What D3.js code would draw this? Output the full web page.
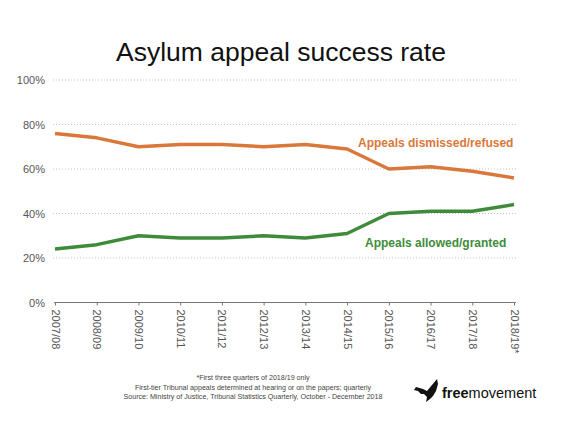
<!DOCTYPE html>
<html><head><meta charset="utf-8">
<script src="https://cdn.jsdelivr.net/npm/d3@7"></script>
<style>
html,body{margin:0;padding:0;background:#fff;}
svg{display:block;font-family:"Liberation Sans",Arial,Helvetica,sans-serif;}
</style></head>
<body>
<svg id="chart" width="564" height="423"></svg>
<script>
const categories = ["2007/08","2008/09","2009/10","2010/11","2011/12","2012/13","2013/14","2014/15","2015/16","2016/17","2017/18","2018/19*"];
const dismissed = [76, 74, 70, 71, 71, 70, 71, 69, 60, 61, 59, 56];
const allowed = [24, 26, 30, 29, 29, 30, 29, 31, 40, 41, 41, 44];
const yTicks = [0, 20, 40, 60, 80, 100];
const footnotes = [
  "*First three quarters of 2018/19 only",
  "First-tier Tribunal appeals determined at hearing or on the papers; quarterly",
  "Source: Ministry of Justice, Tribunal Statistics Quarterly, October - December 2018"
];

const svg = d3.select("#chart");
const x = d3.scalePoint().domain(categories).range([55, 514]);
const y = d3.scaleLinear().domain([0, 100]).range([302.5, 80]);
const orange = "#d9783a", green = "#3e8c3a";

// title
svg.append("text").attr("x", 281).attr("y", 61).attr("text-anchor", "middle")
  .style("font-size", "26.5px").style("fill", "#111").text("Asylum appeal success rate");

// gridlines
svg.append("g").selectAll("line").data(yTicks.filter(d => d > 0)).join("line")
  .attr("x1", 53).attr("x2", 517).attr("y1", d => y(d)).attr("y2", d => y(d))
  .attr("stroke", "#b5b5b5").attr("stroke-width", 0.8).attr("stroke-dasharray", "1,2");

// y labels
const yAxis = d3.axisLeft(y).tickValues(yTicks).tickFormat(d => d + "%").tickSize(0).tickPadding(0);
const gy = svg.append("g").attr("transform", "translate(45,0)").call(yAxis);
gy.select(".domain").remove();
gy.selectAll("text").style("font-size", "11px").style("fill", "#555").style("font-family", "inherit");

// x axis
const xAxis = d3.axisBottom(x).tickSize(3).tickPadding(0).tickSizeOuter(0);
const gx = svg.append("g").attr("transform", `translate(0,${y(0)})`).call(xAxis);
gx.select(".domain").attr("stroke", "#777").attr("d", "M54,0H516");
gx.selectAll(".tick line").attr("stroke", "#777");
gx.selectAll("text").style("font-size", "11px").style("fill", "#555").style("font-family", "inherit")
  .attr("text-anchor", "start").attr("dy", null).attr("y", 0)
  .attr("dominant-baseline", "central")
  .attr("transform", "translate(0,7) rotate(90)");

// lines
const line = d3.line().x((d, i) => x(categories[i])).y(d => y(d));
svg.append("path").datum(dismissed).attr("d", line).attr("fill", "none")
  .attr("stroke", orange).attr("stroke-width", 3.5).attr("stroke-linejoin", "round");
svg.append("path").datum(allowed).attr("d", line).attr("fill", "none")
  .attr("stroke", green).attr("stroke-width", 3.5).attr("stroke-linejoin", "round");

// series labels
svg.append("text").attr("x", 358).attr("y", 147).style("font-size", "12px").style("font-weight", "bold")
  .style("fill", orange).text("Appeals dismissed/refused");
svg.append("text").attr("x", 365).attr("y", 247).style("font-size", "12px").style("font-weight", "bold")
  .style("fill", green).text("Appeals allowed/granted");

// footnotes
svg.append("g").selectAll("text").data(footnotes).join("text")
  .attr("x", 253).attr("y", (d, i) => 380 + i * 9.5).attr("text-anchor", "middle")
  .style("font-size", "7.1px").style("fill", "#444").text(d => d);

// logo
const logo = svg.append("g");
logo.append("path")
  .attr("d", "M416,387 L423,389 L427,391 L432,385 L437,379 L438,384 L436,391 L433,396 L430,399 L426,402 L427,397 L424,394 L421,394 L418,391 L414,390 Z")
  .attr("fill", "#111");
const lt = logo.append("text").attr("x", 442).attr("y", 398).style("font-size", "14.5px").style("fill", "#111");
lt.append("tspan").style("font-weight", "bold").text("free");
lt.append("tspan").text("movement");
</script>
</body></html>
